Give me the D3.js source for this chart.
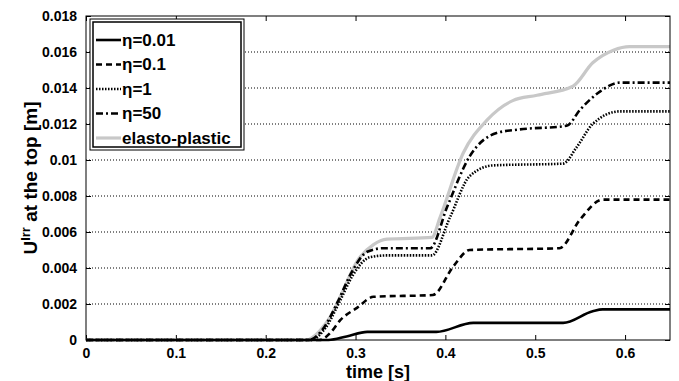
<!DOCTYPE html>
<html>
<head>
<meta charset="utf-8">
<script src="https://cdn.jsdelivr.net/npm/d3@7"></script>
<style>
  body { margin: 0; background: #fff; }
  svg text { font-family: "Liberation Sans", Arial, sans-serif; font-weight: bold; }
</style>
</head>
<body>
<svg id="canvas" width="679" height="381"></svg>
<script>
// series: time [s] and displacement [m]
var tPlastic = [0, 0.245, 0.26, 0.272, 0.283, 0.302, 0.32, 0.335, 0.385, 0.394, 0.42, 0.446, 0.475, 0.502, 0.542, 0.564, 0.587, 0.605, 0.65];
var uPlastic = [0, 0, 0.0005, 0.0013, 0.0024, 0.0044, 0.0053, 0.0056, 0.0057, 0.0068, 0.0104, 0.0122, 0.0133, 0.0136, 0.0141, 0.0154, 0.0161, 0.0163, 0.0163];

var tEta50 = [0, 0.248, 0.265, 0.28, 0.295, 0.313, 0.331, 0.383, 0.402, 0.427, 0.457, 0.483, 0.535, 0.55, 0.572, 0.594, 0.65];
var uEta50 = [0, 0, 0.0007, 0.0021, 0.0037, 0.0049, 0.0051, 0.0051, 0.0074, 0.0102, 0.0115, 0.0117, 0.0119, 0.0128, 0.0138, 0.0143, 0.0143];

var tEta1 = [0, 0.25, 0.267, 0.282, 0.297, 0.316, 0.335, 0.385, 0.405, 0.427, 0.453, 0.531, 0.546, 0.564, 0.594, 0.65];
var uEta1 = [0, 0, 0.0007, 0.0021, 0.0036, 0.0046, 0.0047, 0.0047, 0.0068, 0.0091, 0.0097, 0.0098, 0.0107, 0.012, 0.0127, 0.0127];

var tEta01 = [0, 0.26, 0.272, 0.283, 0.302, 0.32, 0.386, 0.409, 0.427, 0.527, 0.55, 0.575, 0.65];
var uEta01 = [0, 0, 0.0004, 0.0011, 0.0018, 0.0024, 0.0025, 0.0041, 0.005, 0.0051, 0.0067, 0.0078, 0.0078];

var tEta001 = [0, 0.27, 0.29, 0.313, 0.39, 0.431, 0.531, 0.564, 0.575, 0.65];
var uEta001 = [0, 0, 0.0002, 0.00045, 0.00045, 0.00095, 0.00095, 0.0016, 0.0017, 0.0017];

var xTicks = [0, 0.1, 0.2, 0.3, 0.4, 0.5, 0.6];
var yTicks = [0, 0.002, 0.004, 0.006, 0.008, 0.01, 0.012, 0.014, 0.016, 0.018];
var legendNames = ["\u03b7=0.01", "\u03b7=0.1", "\u03b7=1", "\u03b7=50", "elasto-plastic"];

var svg = d3.select("#canvas"),
  margin = {left: 86, right: 9, top: 16, bottom: 41},
  width = +svg.attr("width") - margin.left - margin.right,
  height = +svg.attr("height") - margin.top - margin.bottom,
  g = svg.append("g").attr("transform", "translate(" + margin.left + "," + margin.top + ")");

var x = d3.scaleLinear().domain([0, 0.65]).range([0, width]);
var y = d3.scaleLinear().domain([0, 0.018]).range([height, 0]);

// dotted grid
g.selectAll(".grid")
  .data(yTicks.slice(1, -1))
  .enter().append("line")
  .attr("x1", 0).attr("x2", width)
  .attr("y1", function(d) { return y(d); })
  .attr("y2", function(d) { return y(d); })
  .attr("stroke", "#000")
  .attr("stroke-width", 1)
  .attr("stroke-dasharray", "1,2");

var fmt = function(d) { return d === 0 ? "0" : String(+d.toFixed(3)); };

function styleAxis(sel) {
  sel.select(".domain").remove();
  sel.selectAll("text").attr("font-size", 14).attr("fill", "#000");
  sel.selectAll("line").attr("stroke", "#000");
}

g.append("g").attr("transform", "translate(0," + height + ")")
  .call(d3.axisBottom(x).tickValues(xTicks).tickFormat(fmt).tickSizeInner(-5).tickPadding(8))
  .call(styleAxis);
g.append("g")
  .call(d3.axisTop(x).tickValues(xTicks).tickFormat("").tickSizeInner(-5))
  .call(styleAxis);
g.append("g")
  .call(d3.axisLeft(y).tickValues(yTicks).tickFormat(fmt).tickSizeInner(-5).tickPadding(9))
  .call(styleAxis);
g.append("g").attr("transform", "translate(" + width + ",0)")
  .call(d3.axisRight(y).tickValues(yTicks).tickFormat("").tickSizeInner(-5))
  .call(styleAxis);

var series = [
  {t: tPlastic, u: uPlastic, color: "#c8c8c8", dash: null, w: 3.2},
  {t: tEta50, u: uEta50, color: "#000", dash: "7,3,2,3", w: 2.6},
  {t: tEta1, u: uEta1, color: "#000", dash: "1.5,1.5", w: 2.6},
  {t: tEta01, u: uEta01, color: "#000", dash: "6,4", w: 2.6},
  {t: tEta001, u: uEta001, color: "#000", dash: null, w: 2.6}
];

var line = d3.line()
  .x(function(d) { return x(d[0]); })
  .y(function(d) { return y(d[1]); })
  .curve(d3.curveMonotoneX);

g.selectAll(".series")
  .data(series)
  .enter().append("path")
  .attr("fill", "none")
  .attr("stroke", function(d) { return d.color; })
  .attr("stroke-width", function(d) { return d.w; })
  .attr("stroke-dasharray", function(d) { return d.dash; })
  .attr("d", function(d) { return line(d.t.map(function(t, i) { return [t, d.u[i]]; })); });

// frame
g.append("rect")
  .attr("width", width).attr("height", height)
  .attr("fill", "none").attr("stroke", "#000").attr("stroke-width", 1);

// legend
var legendStyles = [series[4], series[3], series[2], series[1], series[0]];
var lg = svg.append("g").attr("transform", "translate(90,19)");
lg.append("rect")
  .attr("width", 154).attr("height", 131)
  .attr("fill", "#fff").attr("stroke", "#000").attr("stroke-width", 1);
lg.append("rect")
  .attr("x", 3).attr("y", 3)
  .attr("width", 148).attr("height", 125)
  .attr("fill", "none").attr("stroke", "#000").attr("stroke-width", 1.5);

var item = lg.selectAll(".item")
  .data(legendNames)
  .enter().append("g")
  .attr("transform", function(d, i) { return "translate(0," + (21 + i * 24.5) + ")"; });

item.append("line")
  .attr("x1", 6).attr("x2", 31)
  .attr("stroke", function(d, i) { return legendStyles[i].color; })
  .attr("stroke-width", function(d, i) { return legendStyles[i].w; })
  .attr("stroke-dasharray", function(d, i) { return legendStyles[i].dash; });

item.append("text")
  .attr("x", 32).attr("dy", "0.35em")
  .attr("font-size", 17)
  .text(function(d) { return d; });

// axis titles
svg.append("text")
  .attr("x", margin.left + x(0.325)).attr("y", 378)
  .attr("text-anchor", "middle")
  .attr("font-size", 18)
  .text("time [s]");

var yl = svg.append("text")
  .attr("transform", "translate(37," + (margin.top + height / 2) + ") rotate(-90)")
  .attr("text-anchor", "middle")
  .attr("font-size", 19);
yl.append("tspan").text("U");
yl.append("tspan").attr("baseline-shift", "super").attr("font-size", 13).text("Irr");
yl.append("tspan").text(" at the top [m]");
</script>
</body>
</html>
